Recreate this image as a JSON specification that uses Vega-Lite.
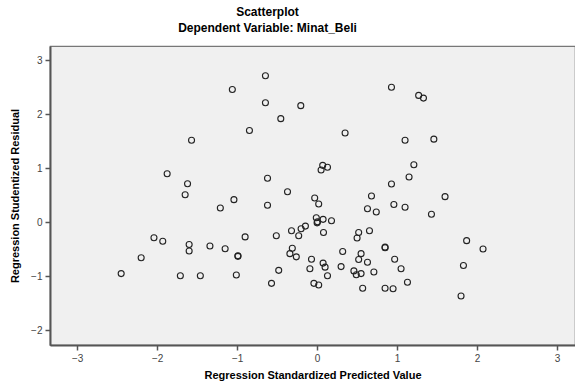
{
  "$schema": "https://vega.github.io/schema/vega-lite/v6.json",
  "autosize": "none",
  "width": 525,
  "height": 299,
  "padding": {"left": 50, "top": 46, "right": 0, "bottom": 40},
  "background": "white",
  "title": {
    "text": "Scatterplot",
    "subtitle": "Dependent Variable: Minat_Beli",
    "font": "Liberation Sans",
    "subtitleFont": "Liberation Sans",
    "fontSize": 12,
    "subtitleFontSize": 12,
    "fontWeight": "bold",
    "subtitleFontWeight": "bold",
    "color": "#000",
    "subtitleColor": "#000",
    "anchor": "middle",
    "dx": -45,
    "offset": 11,
    "subtitlePadding": 4
  },
  "config": {
    "view": {"fill": "#f0f0f0", "stroke": "#777", "strokeWidth": 1.2},
    "axis": {
      "grid": false,
      "domainColor": "#555",
      "domainWidth": 2,
      "tickColor": "#555",
      "tickWidth": 1.5,
      "tickSize": 5,
      "labelFont": "Liberation Sans",
      "labelFontSize": 10,
      "labelColor": "#444",
      "titleFont": "Liberation Sans",
      "titleFontSize": 11,
      "titleFontWeight": "bold",
      "titleColor": "#000"
    }
  },
  "data": {
    "values": [
      {"pred": -1.57, "resid": 1.52}, {"pred": -1.875, "resid": 0.9}, {"pred": -1.62, "resid": 0.715}, {"pred": -1.65, "resid": 0.51},
      {"pred": -2.04, "resid": -0.285}, {"pred": -1.93, "resid": -0.35}, {"pred": -2.2, "resid": -0.655}, {"pred": -2.45, "resid": -0.95},
      {"pred": -1.6, "resid": -0.41}, {"pred": -1.6, "resid": -0.53}, {"pred": -1.71, "resid": -0.99}, {"pred": -1.46, "resid": -0.99},
      {"pred": -0.646, "resid": 2.715}, {"pred": -1.06, "resid": 2.46}, {"pred": -0.646, "resid": 2.215}, {"pred": -0.204, "resid": 2.16},
      {"pred": -0.454, "resid": 1.92}, {"pred": -0.846, "resid": 1.7}, {"pred": 0.35, "resid": 1.654}, {"pred": 0.07, "resid": 1.055},
      {"pred": 0.13, "resid": 1.02}, {"pred": 0.05, "resid": 0.97}, {"pred": -0.62, "resid": 0.815}, {"pred": -0.37, "resid": 0.567},
      {"pred": -1.04, "resid": 0.42}, {"pred": -1.21, "resid": 0.265}, {"pred": -0.62, "resid": 0.315}, {"pred": -0.03, "resid": 0.45},
      {"pred": 0.02, "resid": 0.34}, {"pred": 0.68, "resid": 0.487}, {"pred": 0.63, "resid": 0.25}, {"pred": 0.74, "resid": 0.19},
      {"pred": -0.01, "resid": 0.085}, {"pred": 0.0, "resid": -0.01}, {"pred": 0.005, "resid": 0.01}, {"pred": 0.075, "resid": 0.055},
      {"pred": 0.18, "resid": 0.03}, {"pred": -0.146, "resid": -0.07}, {"pred": -0.2, "resid": -0.12}, {"pred": -0.32, "resid": -0.155},
      {"pred": -0.23, "resid": -0.25}, {"pred": -0.51, "resid": -0.25}, {"pred": -0.9, "resid": -0.27}, {"pred": 0.08, "resid": -0.19},
      {"pred": 0.52, "resid": -0.19}, {"pred": 0.655, "resid": -0.155}, {"pred": 0.5, "resid": -0.29}, {"pred": -1.34, "resid": -0.44},
      {"pred": -1.15, "resid": -0.49}, {"pred": -0.99, "resid": -0.62}, {"pred": -0.99, "resid": -0.63}, {"pred": -0.31, "resid": -0.48},
      {"pred": -0.34, "resid": -0.58}, {"pred": -0.26, "resid": -0.64}, {"pred": 0.32, "resid": -0.54}, {"pred": -0.07, "resid": -0.685},
      {"pred": 0.075, "resid": -0.755}, {"pred": 0.1, "resid": -0.83}, {"pred": -0.09, "resid": -0.86}, {"pred": -0.48, "resid": -0.89},
      {"pred": 0.3, "resid": -0.82}, {"pred": 0.13, "resid": -0.99}, {"pred": -1.01, "resid": -0.975}, {"pred": -0.57, "resid": -1.13},
      {"pred": -0.04, "resid": -1.13}, {"pred": 0.02, "resid": -1.16}, {"pred": 0.55, "resid": -0.58}, {"pred": 0.52, "resid": -0.69},
      {"pred": 0.63, "resid": -0.74}, {"pred": 0.46, "resid": -0.9}, {"pred": 0.49, "resid": -0.97}, {"pred": 0.55, "resid": -0.95},
      {"pred": 0.71, "resid": -0.92}, {"pred": 0.57, "resid": -1.22}, {"pred": 0.93, "resid": 2.5}, {"pred": 1.27, "resid": 2.35},
      {"pred": 1.33, "resid": 2.3}, {"pred": 1.1, "resid": 1.52}, {"pred": 1.46, "resid": 1.54}, {"pred": 1.21, "resid": 1.065},
      {"pred": 1.15, "resid": 0.84}, {"pred": 0.93, "resid": 0.71}, {"pred": 1.6, "resid": 0.475}, {"pred": 0.96, "resid": 0.33},
      {"pred": 1.1, "resid": 0.28}, {"pred": 1.43, "resid": 0.15}, {"pred": 1.87, "resid": -0.34}, {"pred": 2.075, "resid": -0.495},
      {"pred": 0.85, "resid": -0.46}, {"pred": 0.85, "resid": -0.47}, {"pred": 0.97, "resid": -0.685}, {"pred": 1.05, "resid": -0.86},
      {"pred": 1.83, "resid": -0.8}, {"pred": 1.13, "resid": -1.11}, {"pred": 0.85, "resid": -1.22}, {"pred": 0.95, "resid": -1.23},
      {"pred": 1.8, "resid": -1.365}
    ]
  },
  "mark": {"type": "point", "shape": "circle", "filled": false, "size": 36, "stroke": "#222", "strokeWidth": 1.1, "opacity": 1},
  "encoding": {
    "x": {
      "field": "pred", "type": "quantitative",
      "title": "Regression Standardized Predicted Value",
      "scale": {"domain": [-3.34, 3.225], "nice": false, "zero": false},
      "axis": {"values": [-3, -2, -1, 0, 1, 2, 3], "titlePadding": 6, "labelPadding": 3}
    },
    "y": {
      "field": "resid", "type": "quantitative",
      "title": "Regression Studentized Residual",
      "scale": {"domain": [-2.272, 3.265], "nice": false, "zero": false},
      "axis": {"values": [-2, -1, 0, 1, 2, 3], "titlePadding": 10, "labelPadding": 3}
    }
  }
}
